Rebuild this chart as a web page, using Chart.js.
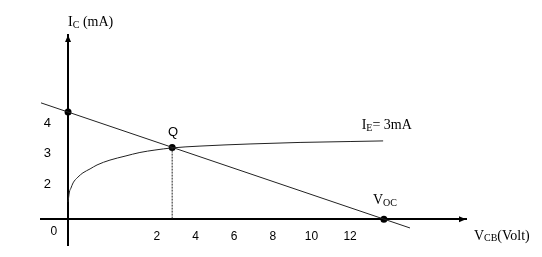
<!DOCTYPE html>
<html>
<head>
<meta charset="utf-8">
<script src="https://cdn.jsdelivr.net/npm/chart.js@4"></script>
<style>
  html, body { margin: 0; padding: 0; background: #fff; }
  #wrap { width: 542px; height: 257px; }
</style>
</head>
<body>
<div id="wrap"><canvas id="chart"></canvas></div>
<script>
// tick labels
const xTicks = [2, 4, 6, 8, 10, 12];
const yTicks = [2, 3, 4];

// I_E = 3mA characteristic (V_CB in V, I_C in mA)
const curveV = [-2.60, -2.53, -2.45, -2.34, -2.09, -1.83, -1.46, -1.10, -0.43, 0.35, 1.12, 1.90, 2.78, 4.23, 6.82, 9.41, 12.0, 13.71];
const curveI = [1.41, 1.74, 1.87, 2.04, 2.23, 2.37, 2.50, 2.63, 2.79, 2.92, 3.04, 3.12, 3.19, 3.25, 3.32, 3.37, 3.40, 3.42];

// load line end points
const loadV = [-4.0, 15.1];
const loadI = [4.67, 0.56];

// marked points: I_C intercept, Q, V_OC
const pointV = [-2.6, 2.79, 13.75];
const pointI = [4.37, 3.2, 0.85];

// where the drawn axes cross
const axisV = -2.6;
const axisI = 0.85;

const serif = "Liberation Serif";
const sans = "Liberation Sans";

// text labels, parts are [text, isSubscript]
const notes = [
  { parts: [["I", 0], ["C", 1], [" (mA)", 0]], v: -2.6, i: 7.33, font: serif },
  { parts: [["Q", 0]], v: 2.83, i: 3.71, font: sans, center: true, size: 13 },
  { parts: [["I", 0], ["E", 1], ["= 3mA", 0]], v: 12.6, i: 3.94, font: serif },
  { parts: [["V", 0], ["OC", 1]], v: 13.18, i: 1.48, font: serif },
  { parts: [["V", 0], ["CB", 1], ["(Volt)", 0]], v: 18.41, i: 0.30, font: serif },
  { parts: [["0", 0]], v: -3.33, i: 0.43, font: sans, center: true, size: 12 }
];

const toXY = (xs, ys) => xs.map((x, k) => ({ x: x, y: ys[k] }));

const notesPlugin = {
  id: "notes",
  afterDraw(chart) {
    const ctx = chart.ctx;
    const xs = chart.scales.x, ys = chart.scales.y;
    const ax = xs.getPixelForValue(axisV);
    const ay = ys.getPixelForValue(axisI);
    ctx.save();
    ctx.fillStyle = "#000";
    ctx.textBaseline = "middle";

    // y tick labels, left of the vertical axis
    ctx.font = "13px '" + sans + "'";
    ctx.textAlign = "right";
    yTicks.forEach(t => ctx.fillText(String(t), ax - 17, ys.getPixelForValue(t)));

    ctx.textAlign = "left";
    notes.forEach(n => {
      const size = n.size || 14;
      const big = size + "px '" + n.font + "'";
      const small = "10px '" + n.font + "'";
      let w = 0;
      n.parts.forEach(p => { ctx.font = p[1] ? small : big; w += ctx.measureText(p[0]).width; });
      let x = xs.getPixelForValue(n.v);
      const y = ys.getPixelForValue(n.i);
      if (n.center) x -= w / 2;
      n.parts.forEach(p => {
        ctx.font = p[1] ? small : big;
        ctx.fillText(p[0], x, p[1] ? y + 3 : y);
        x += ctx.measureText(p[0]).width;
      });
    });

    // arrow heads on the axes
    const top = chart.chartArea.top, right = chart.chartArea.right;
    ctx.beginPath();
    ctx.moveTo(ax, top);
    ctx.lineTo(ax - 3, top + 7);
    ctx.lineTo(ax + 3, top + 7);
    ctx.closePath();
    ctx.moveTo(right, ay);
    ctx.lineTo(right - 7, ay - 3);
    ctx.lineTo(right - 7, ay + 3);
    ctx.closePath();
    ctx.fill();
    ctx.restore();
  }
};

new Chart(document.getElementById("chart"), {
  type: "line",
  data: {
    datasets: [
      {
        data: toXY(loadV, loadI),
        borderColor: "#222",
        borderWidth: 1,
        pointRadius: 0,
        clip: false
      },
      {
        data: toXY(curveV, curveI),
        borderColor: "#222",
        borderWidth: 1,
        pointRadius: 0,
        cubicInterpolationMode: "monotone",
        clip: false
      },
      {
        data: toXY([pointV[1], pointV[1]], [pointI[1], axisI]),
        borderColor: "#222",
        borderWidth: 1,
        borderDash: [2, 1],
        pointRadius: 0
      },
      {
        data: toXY(pointV, pointI),
        showLine: false,
        pointRadius: 3.5,
        pointBackgroundColor: "#000",
        pointBorderColor: "#000",
        pointBorderWidth: 0
      }
    ]
  },
  options: {
    responsive: true,
    maintainAspectRatio: false,
    animation: false,
    layout: { padding: { left: 41, right: 76, top: 35, bottom: 12 } },
    plugins: {
      legend: { display: false },
      tooltip: { enabled: false }
    },
    scales: {
      x: {
        type: "linear",
        min: -4,
        max: 18,
        position: { y: axisI },
        grid: { display: false, drawTicks: false, tickLength: 0 },
        border: { display: true, color: "#000", width: 2 },
        afterBuildTicks: s => { s.ticks = xTicks.map(v => ({ value: v })); },
        ticks: {
          color: "#000",
          font: { family: sans, size: 12 },
          padding: 10,
          maxRotation: 0,
          autoSkip: false
        }
      },
      y: {
        type: "linear",
        min: 0,
        max: 6.9,
        position: { x: axisV },
        grid: { display: false, drawTicks: false, tickLength: 0 },
        border: { display: true, color: "#000", width: 2 },
        ticks: { display: false, padding: 0 }
      }
    }
  },
  plugins: [notesPlugin]
});
</script>
</body>
</html>
